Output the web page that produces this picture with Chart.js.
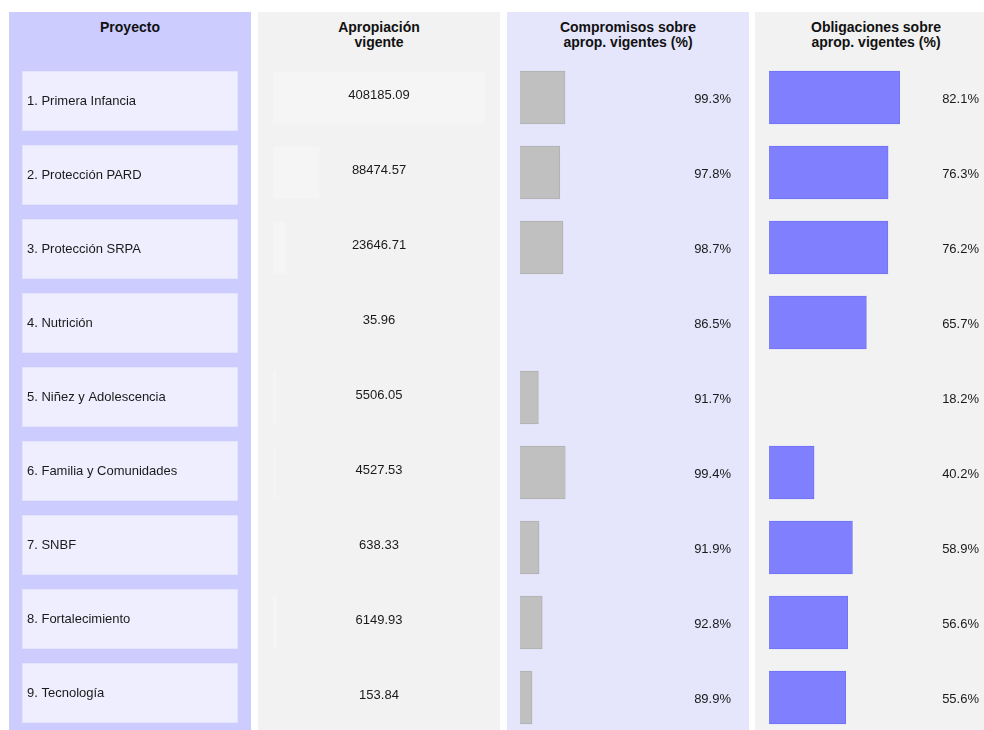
<!DOCTYPE html>
<html>
<head>
<meta charset="utf-8">
<script src="https://cdn.jsdelivr.net/npm/chart.js@4.4.1/dist/chart.umd.min.js"></script>
<style>
  html, body { margin:0; padding:0; width:984px; height:730px; overflow:hidden; background:#ffffff; }
  body { position:relative; font-family:"Liberation Sans", Arial, sans-serif; }
  .col { position:absolute; top:12px; width:242px; height:730px; }
  .hdr { position:absolute; top:20px; width:242px; text-align:center; font-weight:bold; font-size:14px; line-height:15px; color:#111; }
  canvas { position:absolute; top:0; }
</style>
</head>
<body>
<div class="col" style="left:9px;background:#ccccff"></div>
<div class="col" style="left:258px;background:#f2f2f2"></div>
<div class="col" style="left:507px;background:#e5e5fc"></div>
<div class="col" style="left:755px;background:#f2f2f2"></div>

<div class="hdr" id="h0" style="left:9px"></div>
<div class="hdr" id="h1" style="left:258px"></div>
<div class="hdr" id="h2" style="left:507px"></div>
<div class="hdr" id="h3" style="left:755px"></div>

<canvas id="c0" width="242" height="730" style="left:9px"></canvas>
<canvas id="c1" width="242" height="735" style="left:258px"></canvas>
<canvas id="c2" width="242" height="735" style="left:507px"></canvas>
<canvas id="c3" width="242" height="735" style="left:755px"></canvas>

<script>
// ---- data ----
const headers = ["Proyecto", "Apropiación\nvigente", "Compromisos sobre\naprop. vigentes (%)", "Obligaciones sobre\naprop. vigentes (%)"];
const projects = [
  "1. Primera Infancia",
  "2. Protección PARD",
  "3. Protección SRPA",
  "4. Nutrición",
  "5. Niñez y Adolescencia",
  "6. Familia y Comunidades",
  "7. SNBF",
  "8. Fortalecimiento",
  "9. Tecnología"
];
const apropiacion = [408185.09, 88474.57, 23646.71, 35.96, 5506.05, 4527.53, 638.33, 6149.93, 153.84];
const compromisos = [99.3, 97.8, 98.7, 86.5, 91.7, 99.4, 91.9, 92.8, 89.9];
const obligaciones = [82.1, 76.3, 76.2, 65.7, 18.2, 40.2, 58.9, 56.6, 55.6];

headers.forEach((h, i) => {
  const el = document.getElementById('h' + i);
  h.split('\n').forEach((line, k) => {
    if (k) el.appendChild(document.createElement('br'));
    el.appendChild(document.createTextNode(line));
  });
});

const FONT = '13px "Liberation Sans", Arial, sans-serif';
const TXT = '#1a1a1a';

// ---- column 1: project cells ----
const cellPlugin = {
  id: 'cells',
  afterDraw(chart) {
    const { ctx } = chart;
    const y = chart.scales.y;
    ctx.save();
    projects.forEach((p, i) => {
      const cy = y.getPixelForValue(i);
      ctx.fillStyle = '#eeeeff';
      ctx.fillRect(13, cy - 30, 216, 60);
      ctx.strokeStyle = '#e3e3fc';
      ctx.lineWidth = 1;
      ctx.strokeRect(13.5, cy - 29.5, 215, 59);
      ctx.fillStyle = TXT;
      ctx.font = FONT;
      ctx.textAlign = 'left';
      ctx.textBaseline = 'middle';
      ctx.fillText(p, 18, cy + 0.5);
    });
    ctx.restore();
  }
};

new Chart(document.getElementById('c0'), {
  type: 'bar',
  data: { labels: projects, datasets: [] },
  options: {
    indexAxis: 'y',
    responsive: false, animation: false, events: [],
    layout: { padding: { top: 64, bottom: 0, left: 0, right: 0 } },
    plugins: { legend: { display: false }, tooltip: { enabled: false } },
    scales: {
      x: { type: 'linear', display: false, min: 0, max: 1 },
      y: { type: 'category', display: false }
    }
  },
  plugins: [cellPlugin]
});

// ---- value columns ----
function valueLabels(fmt, align, xPos, dy) {
  return {
    id: 'vals',
    afterDatasetsDraw(chart) {
      const { ctx } = chart;
      const ds = chart.data.datasets[0].data;
      const y = chart.scales.y;
      ctx.save();
      ctx.fillStyle = TXT;
      ctx.font = FONT;
      ctx.textAlign = align;
      ctx.textBaseline = 'middle';
      ds.forEach((v, i) => ctx.fillText(fmt(v), xPos, y.getPixelForValue(i) + dy));
      ctx.restore();
    }
  };
}

function barColumn(id, values, opts) {
  const lo = Math.min(...values), hi = Math.max(...values);
  const isMin = c => c.dataIndex !== undefined && values[c.dataIndex] === lo;
  new Chart(document.getElementById(id), {
    type: 'bar',
    data: {
      labels: projects,
      datasets: [{
        data: values,
        backgroundColor: c => (isMin(c) ? 'rgba(0,0,0,0)' : opts.fill),
        borderColor: c => (isMin(c) ? 'rgba(0,0,0,0)' : opts.border),
        borderWidth: c => (isMin(c) ? 0 : opts.bw),
        borderSkipped: false,
        barThickness: opts.thick
      }]
    },
    options: {
      indexAxis: 'y',
      responsive: false, animation: false, events: [],
      layout: { padding: { top: 60, bottom: 0, left: opts.padL, right: opts.padR } },
      plugins: { legend: { display: false }, tooltip: { enabled: false } },
      scales: {
        x: { display: false, min: lo, max: hi },
        y: { display: false }
      }
    },
    plugins: [valueLabels(opts.fmt, opts.align, opts.tx, opts.dy)]
  });
}

barColumn('c1', apropiacion, {
  fill: '#f5f5f5', border: '#f5f5f5', bw: 0, thick: 51, padL: 15, padR: 15,
  fmt: v => v.toFixed(2), align: 'center', tx: 121, dy: -2
});
barColumn('c2', compromisos, {
  fill: '#c0c0c0', border: '#b0b0b0', bw: 1, thick: 53, padL: 13, padR: 183.5,
  fmt: v => v.toFixed(1) + '%', align: 'right', tx: 224, dy: 1.5
});
barColumn('c3', obligaciones, {
  fill: '#8080ff', border: '#7272f5', bw: 1, thick: 53, padL: 14, padR: 97,
  fmt: v => v.toFixed(1) + '%', align: 'right', tx: 224, dy: 1.5
});
</script>
</body>
</html>
